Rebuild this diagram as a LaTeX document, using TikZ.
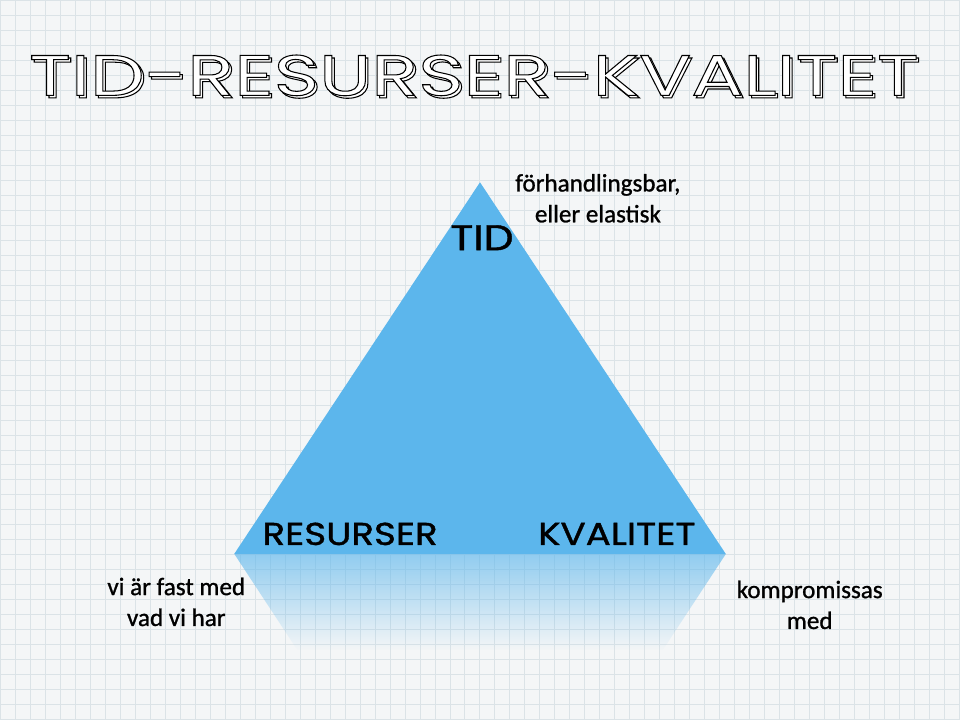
\documentclass[tikz,border=0pt]{standalone}
\usepackage{fontspec}
\setmainfont[FakeBold=1]{Carlito}
\newfontfamily\labelfont[FakeStretch=1.18, FakeBold=1.2]{Poppins}
\newfontfamily\titlefont[FakeStretch=1.35]{Poppins}
\usetikzlibrary{fadings}

\definecolor{paper}{RGB}{244,246,247}
\definecolor{gridline}{RGB}{219,227,231}
\definecolor{triblue}{RGB}{92,182,236}

\tikzfading[name=reflectfade, top color=transparent!35, bottom color=transparent!100]

% white letters with a thin black outline
\newcommand{\outlined}[1]{{\color{white}\special{pdf:literal direct 0 G 2 Tr 0.6 w}#1\special{pdf:literal direct 0 Tr}}}

\tikzset{
  lbl/.style={font=\labelfont\fontsize{18}{20}\selectfont, text=black, inner sep=0pt, anchor=base},
  note/.style={font=\fontsize{14.3}{17.6}\selectfont, align=center, inner sep=0pt},
  ttl/.style={font=\titlefont\fontsize{32.6}{36}\selectfont, inner sep=0pt}
}

\begin{document}
\begin{tikzpicture}[x=0.02cm,y=-0.02cm]
        \fill[paper] (0,0) rectangle (960,720);
        \draw[step=3mm,gridline,line width=0.5pt] (0,0) grid (960,720);

        % title
        \node[ttl] (titleback) at (476.5,77.5) {\outlined{TID-RESURSER-KVALITET}};
        \node[ttl] (title) at (474,75) {\outlined{TID-RESURSER-KVALITET}};

        % triangle
        \coordinate (apex) at (480,182);
        \coordinate (lft) at (234,554);
        \coordinate (rgt) at (726,554);
        \coordinate (rlft) at (297,650);
        \coordinate (rrgt) at (663,650);
        \fill[triblue] (apex) -- (rgt) -- (lft) -- cycle;
        % reflection
        \fill[triblue, path fading=reflectfade] (lft) -- (rgt) -- (rrgt) -- (rlft) -- cycle;

        % corners
        \node[lbl, font=\labelfont\fontsize{20.4}{22}\selectfont] (tid) at (482,250) {TID};
        \node[lbl] (res) at (350,545) {RESURSER};
        \node[lbl] (kva) at (617,545) {KVALITET};

        % notes
        \node[note] (tidnote) at (598,198) {förhandlingsbar,\\eller elastisk};
        \node[note] (resnote) at (176,602) {vi är fast med\\vad vi har};
        \node[note] (kvanote) at (810,605) {kompromissas\\med};
\end{tikzpicture}
\end{document}
